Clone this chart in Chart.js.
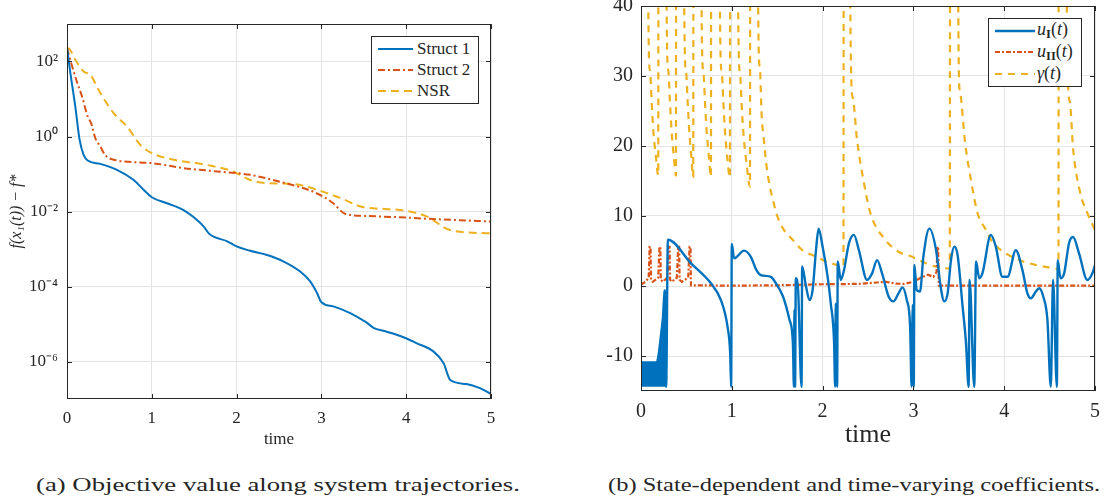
<!DOCTYPE html>
<html>
<head>
<meta charset="utf-8">
<script src="https://cdn.jsdelivr.net/npm/chart.js@4.4.1/dist/chart.umd.min.js"></script>
<style>
body { margin: 0; background: #fff; width: 1106px; height: 502px; position: relative; overflow: hidden; font-family: 'Liberation Serif', serif; color: #262626; }
canvas { position: absolute; top: 0; }
.legend { position: absolute; border: 1px solid #262626; background: #fff; box-sizing: border-box; }
.legend .row { position: absolute; left: 0; display: flex; align-items: center; white-space: nowrap; }
.legend svg { display: block; }
.cap { position: absolute; top: 476px; font-size: 18px; line-height: 18px; transform-origin: 0 0; white-space: nowrap; }
sub { font-size: 0.7em; vertical-align: -0.25em; }
</style>
</head>
<body>
<canvas id="left" width="520" height="455" style="left:0"></canvas>
<canvas id="right" width="546" height="455" style="left:560px"></canvas>
<div class="legend" id="legLeft" style="left:371px;top:36px;width:108px;height:68px"></div>
<div class="legend" id="legRight" style="left:988px;top:18px;width:94px;height:69px"></div>
<div class="cap" data-w="484" style="left:36px">(a) Objective value along system trajectories.</div>
<div class="cap" data-w="492" style="left:608px">(b) State-dependent and time-varying coefficients.</div>
<script>
// ---- (a) objective value, log scale ----
const s1T = [0, 0.04, 0.098, 0.149, 0.196, 0.244, 0.393, 0.589, 0.786, 0.903, 1.0, 1.18, 1.37, 1.53, 1.61, 1.68, 1.89, 2.0, 2.15, 2.36, 2.55, 2.75, 2.87, 2.95, 3.0, 3.14, 3.34, 3.53, 3.62, 3.73, 3.93, 4.12, 4.32, 4.44, 4.52, 4.71, 4.87, 5.0];
const s1Y = [229, 49, 6.3, 0.81, 0.324, 0.229, 0.186, 0.129, 0.069, 0.038, 0.024, 0.0166, 0.011, 0.006, 0.004, 0.0025, 0.0016, 0.00117, 0.00091, 6.9e-4, 4.7e-4, 2.5e-4, 1.35e-4, 6.6e-5, 3.8e-5, 2.95e-5, 1.95e-5, 1.1e-5, 7.8e-6, 6.6e-6, 4.8e-6, 3.1e-6, 1.86e-6, 9.1e-7, 3.2e-7, 2.5e-7, 1.95e-7, 1.38e-7];
const s2T = [0, 0.05, 0.11, 0.177, 0.244, 0.283, 0.334, 0.393, 0.45, 0.55, 1.0, 1.37, 1.77, 2.16, 2.55, 2.87, 3.02, 3.14, 3.28, 3.53, 3.93, 4.32, 5.0];
const s2Y = [229, 90, 32, 11.7, 3.4, 2.3, 0.91, 0.54, 0.32, 0.24, 0.195, 0.144, 0.117, 0.095, 0.059, 0.036, 0.025, 0.0166, 0.0087, 0.0076, 0.0070, 0.0063, 0.0054];
const nsrT = [0, 0.03, 0.1, 0.196, 0.275, 0.393, 0.55, 0.707, 0.864, 1.0, 1.26, 1.65, 1.96, 2.16, 2.36, 2.67, 2.98, 3.22, 3.5, 3.93, 4.24, 4.52, 5.0];
const nsrY = [229, 214, 110, 54, 44, 14.4, 4.2, 1.85, 0.6, 0.36, 0.24, 0.174, 0.117, 0.069, 0.057, 0.054, 0.036, 0.023, 0.013, 0.011, 0.0074, 0.0032, 0.0026];
const logTicks = [1e-6, 1e-4, 1e-2, 1, 1e2];
const logTickLabels = ['10⁻⁶', '10⁻⁴', '10⁻²', '10⁰', '10²'];
const timeTicks = [0, 1, 2, 3, 4, 5];

// ---- (b) coefficients ----
// dense start of u_I, drawn as its upper envelope filled down to the lower bound
const envT = [0, 0.168, 0.19, 0.205, 0.223, 0.24, 0.259, 0.27];
const envY = [-10.9, -10.9, -10, -8.5, -6.5, -4.4, -0.6, -0.6];
const uLow = -14.4;
const u1T = [0.262, 0.277, 0.296, 0.551, 0.77, 0.88, 0.953, 0.982, 0.993, 1.0, 1.026, 1.135, 1.208, 1.27, 1.318, 1.43, 1.48, 1.564, 1.636, 1.673, 1.684, 1.69, 1.697, 1.705, 1.73, 1.768, 1.775, 1.818, 1.855, 1.89, 1.927, 1.956, 2.0, 2.055, 2.09, 2.127, 2.138, 2.145, 2.16, 2.167, 2.2, 2.236, 2.29, 2.345, 2.4, 2.49, 2.545, 2.6, 2.655, 2.727, 2.78, 2.836, 2.88, 2.927, 2.964, 2.98, 2.993, 3.004, 3.011, 3.036, 3.073, 3.11, 3.176, 3.25, 3.30, 3.34, 3.377, 3.414, 3.45, 3.487, 3.542, 3.579, 3.608, 3.619, 3.67, 3.69, 3.725, 3.76, 3.853, 3.908, 3.98, 4.037, 4.128, 4.2, 4.256, 4.293, 4.348, 4.385, 4.43, 4.476, 4.513, 4.538, 4.58, 4.59, 4.62, 4.66, 4.714, 4.758, 4.824, 4.916, 4.97, 5.0];
const u1Y = [-0.6, -14.4, 6.6, 3.24, 0.38, -2.0, -5.8, -9.6, -14.4, 6.0, 3.95, 5.05, 4.2, 2.3, 1.57, 1.3, 0.5, -1.5, -4.85, -8.2, -14.4, -3.4, -14.4, 1.1, -0.5, -14.4, 2.8, -0.1, -2.0, -0.57, 5.1, 8.2, 5.6, 1.33, -2.5, -8.2, -14.4, -2.5, -14.4, 3.5, 0.86, 2.3, 6.1, 7.3, 5.1, 0.86, 1.8, 3.7, 1.8, -1.5, -2.2, -1.05, -0.2, -2.0, -5.8, -14.4, -2.7, -14.4, 3.0, -0.57, -0.8, 4.2, 8.2, 5.1, -0.1, -2.2, -1.05, 3.7, 5.6, 4.4, -2.95, -8.1, -14.4, 0.86, -14.4, 3.5, 1.1, 1.8, 7.3, 5.6, 1.33, 1.33, 5.1, 2.3, -1.05, -1.76, -0.8, -0.33, -1.5, -4.85, -14.4, 0.86, -14.4, 3.7, 1.1, 1.8, 6.1, 7.0, 4.66, 0.86, 1.8, 3.0];
const u2T = [0, 0.05, 0.085, 0.095, 0.105, 0.11, 0.13, 0.19, 0.203, 0.213, 0.218, 0.24, 0.29, 0.305, 0.315, 0.32, 0.34, 0.395, 0.41, 0.42, 0.425, 0.45, 0.52, 0.535, 0.545, 0.55, 1.0, 1.5, 2.0, 2.4, 2.6, 2.7, 2.8, 2.9, 3.0, 3.1, 3.16, 3.22, 3.255, 3.265, 3.272, 3.28, 5.0];
const u2Y = [0.2, 0.6, 1.2, 5.6, 5.6, 0.9, 0.6, 1.2, 5.6, 5.6, 0.9, 0.6, 1.2, 5.6, 5.6, 0.9, 0.6, 1.2, 5.6, 5.6, 0.9, 0.6, 1.2, 5.6, 5.6, 0.1, 0.05, 0.1, 0.25, 0.3, 0.5, 0.6, 0.35, 0.3, 0.6, 1.3, 1.6, 1.3, 2.0, 5.6, 5.6, 0.05, 0.05];
const gT = [0, 0.075, 0.08, 0.099, 0.117, 0.135, 0.165, 0.19, 0.197,
  0.277, 0.282, 0.30, 0.318, 0.336, 0.362, 0.385, 0.392,
  0.471, 0.476, 0.495, 0.513, 0.531, 0.555, 0.575, 0.585,
  0.662, 0.667, 0.686, 0.704, 0.722, 0.748, 0.77, 0.78,
  0.864, 0.869, 0.888, 0.906, 0.924, 0.952, 0.979, 0.99,
  1.065, 1.07, 1.09, 1.11, 1.13, 1.165, 1.2, 1.21,
  1.285, 1.29, 1.309, 1.327, 1.356, 1.382, 1.419, 1.455, 1.49, 1.56, 1.67, 1.78, 1.93, 2.04, 2.16, 2.23, 2.236,
  2.30, 2.305, 2.33, 2.38, 2.45, 2.527, 2.69, 2.836, 2.98, 3.145, 3.25, 3.40, 3.414,
  3.489, 3.494, 3.51, 3.57, 3.64, 3.707, 3.80, 3.87, 4.018, 4.165, 4.35, 4.55, 4.598, 4.604,
  4.685, 4.69, 4.72, 4.76, 4.83, 4.916, 5.0];
const gY = [300, 300, 40, 30.8, 26.5, 22.3, 18.4, 15.8, 300,
  300, 40, 30.8, 26.5, 22.3, 18.4, 15.8, 300,
  300, 40, 30.8, 26.5, 22.3, 18.4, 15.6, 300,
  300, 40, 30.8, 26.5, 22.3, 18.4, 15.6, 300,
  300, 40, 30.8, 26.5, 22.3, 18.0, 15.5, 300,
  300, 40, 30.5, 25.5, 21.5, 17.2, 14.2, 300,
  300, 40, 31.3, 24.8, 20.5, 17.2, 14.2, 12.2, 10.4, 8.3, 6.6, 5.1, 4.2, 3.5, 3.0, 2.8, 300,
  300, 40, 27, 20.8, 15.1, 10.4, 6.6, 4.9, 4.2, 3.2, 2.76, 2.5, 300,
  300, 40, 28, 20.4, 14.7, 10.4, 8.0, 6.3, 4.66, 3.7, 3.0, 2.5, 2.4, 300,
  300, 40, 26.5, 19.4, 13.7, 10.4, 8.0];
const coefTicks = [-10, 0, 10, 20, 30, 40];

const BLUE = '#0072BD', RED = '#D95319', YELLOW = '#EDB120';
const AXIS = '#262626', GRID = '#e4e4e4', SERIF = "'Liberation Serif', serif";

const pts = (xs, ys) => xs.map((x, i) => ({ x, y: ys[i] }));

// MATLAB-like box with inward tick marks
const boxPlugin = {
    id: 'box',
    afterDatasetsDraw(chart) {
        const { ctx, chartArea: a, scales } = chart;
        ctx.save();
        ctx.strokeStyle = AXIS;
        ctx.lineWidth = 1;
        ctx.beginPath();
        scales.x.ticks.forEach(t => {
            const px = Math.round(scales.x.getPixelForValue(t.value)) + 0.5;
            ctx.moveTo(px, a.bottom); ctx.lineTo(px, a.bottom - 5);
            ctx.moveTo(px, a.top); ctx.lineTo(px, a.top + 5);
        });
        scales.y.ticks.forEach(t => {
            const py = Math.round(scales.y.getPixelForValue(t.value)) + 0.5;
            ctx.moveTo(a.left, py); ctx.lineTo(a.left + 5, py);
            ctx.moveTo(a.right, py); ctx.lineTo(a.right - 5, py);
        });
        ctx.stroke();
        ctx.strokeRect(Math.round(a.left) + 0.5, Math.round(a.top) + 0.5, Math.round(a.right - a.left) - 1, Math.round(a.bottom - a.top) - 1);
        ctx.restore();
    }
};

function fixedScale(size, isX) {
    return s => {
        if (isX) s.height = size; else s.width = size;
        s.paddingTop = s.paddingBottom = s.paddingLeft = s.paddingRight = 0;
    };
}

function baseScale(ticksList, fontSize, pad, labels) {
    return {
        afterBuildTicks: s => { s.ticks = ticksList.map(v => ({ value: v })); },
        ticks: {
            color: AXIS, padding: pad, maxRotation: 0, autoSkip: false,
            font: { family: SERIF, size: fontSize },
            callback: (v, i) => labels ? labels[i] : String(v)
        },
        grid: { color: GRID, drawTicks: false },
        border: { display: false }
    };
}

const leftChart = new Chart(document.getElementById('left'), {
    type: 'line',
    data: {
        datasets: [
            { label: 'Struct 1', data: pts(s1T, s1Y), borderColor: BLUE, borderWidth: 2, cubicInterpolationMode: 'monotone' },
            { label: 'Struct 2', data: pts(s2T, s2Y), borderColor: RED, borderWidth: 2, borderDash: [7, 3, 2, 3], cubicInterpolationMode: 'monotone' },
            { label: 'NSR', data: pts(nsrT, nsrY), borderColor: YELLOW, borderWidth: 2, borderDash: [8, 5], cubicInterpolationMode: 'monotone' }
        ]
    },
    options: {
        responsive: false, animation: false,
        layout: { padding: { top: 24, right: 29, left: 0, bottom: 0 } },
        elements: { point: { radius: 0 } },
        plugins: { legend: { display: false }, tooltip: { enabled: false } },
        scales: {
            x: Object.assign(baseScale(timeTicks, 17, 9), {
                type: 'linear', min: 0, max: 5,
                afterFit: fixedScale(56, true),
                title: { display: true, text: 'time', color: AXIS, font: { family: SERIF, size: 17 }, padding: { top: 0, bottom: 5 } }
            }),
            y: Object.assign(baseScale(logTicks, 17, 9, logTickLabels), {
                type: 'logarithmic', min: 1e-7, max: 1e3,
                afterFit: fixedScale(67, false),
                title: { display: true, text: 'f(x₁(t)) − f*', color: AXIS, font: { family: SERIF, size: 16, style: 'italic' }, padding: { top: 7, bottom: 0 } }
            })
        }
    },
    plugins: [boxPlugin]
});

const rightChart = new Chart(document.getElementById('right'), {
    type: 'line',
    data: {
        datasets: [
            { label: 'u_I(t)', data: pts(u1T, u1Y), borderColor: BLUE, borderWidth: 2.4, cubicInterpolationMode: 'monotone' },
            { label: 'u_II(t)', data: pts(u2T, u2Y), borderColor: RED, borderWidth: 2.2, borderDash: [5, 2, 2, 2] },
            { label: 'gamma(t)', data: pts(gT, gY), borderColor: YELLOW, borderWidth: 2.2, borderDash: [7, 6], cubicInterpolationMode: 'monotone', clip: 0 },
            { label: 'u_I start', data: pts(envT, envY), borderColor: BLUE, borderWidth: 2, backgroundColor: BLUE, fill: { value: uLow }, cubicInterpolationMode: 'monotone' }
        ]
    },
    options: {
        responsive: false, animation: false,
        layout: { padding: { top: 6, right: 11, left: 0, bottom: 0 } },
        elements: { point: { radius: 0 } },
        plugins: { legend: { display: false }, tooltip: { enabled: false } },
        scales: {
            x: Object.assign(baseScale(timeTicks, 20, 9), {
                type: 'linear', min: 0, max: 5,
                afterFit: fixedScale(64, true),
                title: { display: true, text: 'time', color: AXIS, font: { family: SERIF, size: 26 }, padding: { top: 0, bottom: 4 } }
            }),
            y: Object.assign(baseScale(coefTicks, 20, 8), {
                min: -15, max: 40,
                afterFit: fixedScale(81, false)
            })
        }
    },
    plugins: [boxPlugin]
});

function sample(ds, w) {
    const dash = (ds.borderDash || []).join(' ');
    return `<svg width="${w}" height="6"><line x1="0" y1="3" x2="${w}" y2="3" stroke="${ds.borderColor}" stroke-width="${ds.borderWidth}" stroke-dasharray="${dash}"/></svg>`;
}

function buildLegend(el, chart, items, opts) {
    el.innerHTML = items.map((it, k) => {
        const ds = chart.data.datasets[it.index];
        return `<div class="row" style="top:${opts.top + k * opts.step}px;left:${opts.left}px;font-size:${opts.size}px;height:${opts.step}px">` +
            `${sample(ds, opts.w)}<span style="margin-left:${opts.gap}px">${it.html}</span></div>`;
    }).join('');
}

buildLegend(document.getElementById('legLeft'), leftChart, [
    { index: 0, html: 'Struct 1' },
    { index: 1, html: 'Struct 2' },
    { index: 2, html: 'NSR' }
], { top: 1, step: 21, left: 6, w: 35, gap: 4, size: 17 });

buildLegend(document.getElementById('legRight'), rightChart, [
    { index: 0, html: '<i>u</i><sub><b>I</b></sub>(<i>t</i>)' },
    { index: 1, html: '<i>u</i><sub><b>II</b></sub>(<i>t</i>)' },
    { index: 2, html: '<i>γ</i>(<i>t</i>)' }
], { top: 1, step: 21.5, left: 6, w: 40, gap: 2, size: 18 });

document.querySelectorAll('.cap').forEach(el => {
    el.style.transform = `scaleX(${el.dataset.w / el.offsetWidth})`;
});
</script>
</body>
</html>
